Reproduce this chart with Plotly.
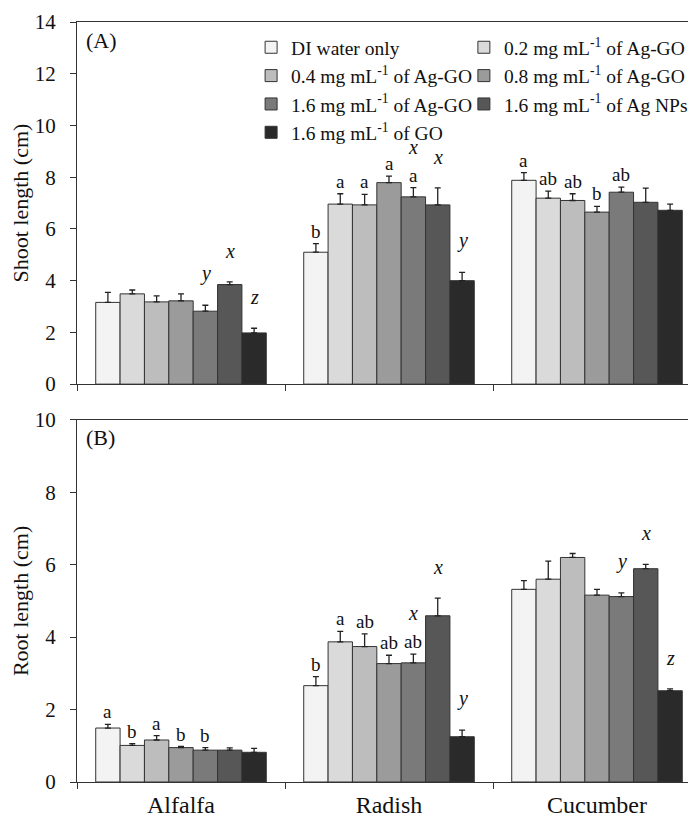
import plotly.graph_objects as go
from plotly.subplots import make_subplots

crops = ["Alfalfa", "Radish", "Cucumber"]
treatments = [
    "DI water only",
    "0.2 mg mL<sup>-1</sup> of Ag-GO",
    "0.4 mg mL<sup>-1</sup> of Ag-GO",
    "0.8 mg mL<sup>-1</sup> of Ag-GO",
    "1.6 mg mL<sup>-1</sup> of Ag-GO",
    "1.6 mg mL<sup>-1</sup> of Ag NPs",
    "1.6 mg mL<sup>-1</sup> of GO",
]
colors = ["#f3f3f3", "#dadada", "#bdbdbd", "#9b9b9b", "#7a7a7a", "#575757", "#2a2a2a"]
# which of the two legend columns each treatment goes in
legend_col = ["legend", "legend2", "legend", "legend2", "legend", "legend2", "legend"]

# shoot length (cm), one list per treatment across crops
shoot_mean = [
    [3.16, 5.10, 7.88],
    [3.49, 6.96, 7.19],
    [3.18, 6.93, 7.10],
    [3.22, 7.79, 6.65],
    [2.82, 7.24, 7.42],
    [3.85, 6.93, 7.03],
    [1.98, 4.00, 6.72],
]
shoot_err = [
    [0.39, 0.33, 0.30],
    [0.15, 0.40, 0.27],
    [0.23, 0.41, 0.26],
    [0.27, 0.25, 0.22],
    [0.23, 0.36, 0.20],
    [0.10, 0.66, 0.55],
    [0.18, 0.32, 0.24],
]
shoot_letters = [
    ["", "b", "a"],
    ["", "a", "ab"],
    ["", "a", "ab"],
    ["", "a", "b"],
    ["", "a", "ab"],
    ["", "", ""],
    ["", "", ""],
]
shoot_italic = [
    ["", "", ""],
    ["", "", ""],
    ["", "", ""],
    ["", "", ""],
    ["y", "x", ""],
    ["x", "x", ""],
    ["z", "y", ""],
]

# root length (cm)
root_mean = [
    [1.49, 2.66, 5.32],
    [1.01, 3.87, 5.60],
    [1.16, 3.74, 6.20],
    [0.95, 3.27, 5.16],
    [0.88, 3.29, 5.12],
    [0.88, 4.59, 5.89],
    [0.82, 1.25, 2.52],
]
root_err = [
    [0.10, 0.25, 0.24],
    [0.05, 0.29, 0.50],
    [0.12, 0.35, 0.11],
    [0.03, 0.23, 0.16],
    [0.07, 0.24, 0.10],
    [0.06, 0.49, 0.12],
    [0.11, 0.18, 0.05],
]
root_letters = [
    ["a", "b", ""],
    ["b", "a", ""],
    ["a", "ab", ""],
    ["b", "ab", ""],
    ["b", "ab", ""],
    ["", "", ""],
    ["", "", ""],
]
root_italic = [
    ["", "", ""],
    ["", "", ""],
    ["", "", ""],
    ["", "", ""],
    ["", "x", "y"],
    ["", "x", "x"],
    ["", "y", "z"],
]

FONT = "Liberation Serif, Times New Roman, serif"
bargap = 0.18
group = 1 - bargap
bw = group / len(treatments)

fig = make_subplots(rows=2, cols=1, vertical_spacing=0.047, shared_xaxes=False)

panels = [
    (1, shoot_mean, shoot_err, shoot_letters, shoot_italic, True),
    (2, root_mean, root_err, root_letters, root_italic, False),
]

for row, means, errs, letters, italics, show in panels:
    xref = "x" if row == 1 else "x2"
    yref = "y" if row == 1 else "y2"
    for j, name in enumerate(treatments):
        fig.add_trace(go.Bar(
            x=crops, y=means[j], name=name, showlegend=show, legend=legend_col[j],
            marker=dict(color=colors[j], line=dict(color="#333333", width=1)),
            error_y=dict(type="data", array=errs[j], arrayminus=[0] * 3,
                         symmetric=False, color="#222222", thickness=1.3, width=3),
        ), row=row, col=1)
        # significance letters above each error bar
        for i in range(len(crops)):
            xpos = i - group / 2 + bw * (j + 0.5)
            top = means[j][i] + errs[j][i]
            if letters[j][i]:
                fig.add_annotation(x=xpos, y=top, xref=xref, yref=yref,
                                   text=letters[j][i], showarrow=False, yanchor="bottom",
                                   yshift=0, font=dict(family=FONT, size=19, color="#111"))
            if italics[j][i]:
                shift = 28 if letters[j][i] else 18
                fig.add_annotation(x=xpos, y=top, xref=xref, yref=yref,
                                   text="<i>" + italics[j][i] + "</i>", showarrow=False,
                                   yanchor="bottom", yshift=shift,
                                   font=dict(family=FONT, size=20, color="#111"))

axis_common = dict(showline=True, linecolor="#333333", linewidth=1, mirror=True,
                   ticks="outside", ticklen=6, tickcolor="#333333", showgrid=False,
                   zeroline=False, ticklabelstandoff=10,
                   tickfont=dict(family=FONT, size=21, color="#111"))

fig.update_xaxes(**axis_common, tickson="boundaries")
fig.update_xaxes(tickfont=dict(family=FONT, size=24, color="#111"), ticklabelstandoff=1,
                 row=2, col=1)
fig.update_xaxes(showticklabels=False, row=1, col=1)
fig.update_yaxes(**axis_common)
fig.update_yaxes(range=[0, 14], dtick=2, row=1, col=1,
                 title=dict(text="Shoot length (cm)", font=dict(family=FONT, size=22, color="#111"),
                            standoff=3))
fig.update_yaxes(range=[0, 10], dtick=2, row=2, col=1,
                 title=dict(text="Root length (cm)", font=dict(family=FONT, size=22, color="#111"),
                            standoff=3))

fig.add_annotation(x=0.012, y=0.995, xref="paper", yref="paper", text="(A)", showarrow=False,
                   xanchor="left", yanchor="top", font=dict(family=FONT, size=22, color="#111"))
fig.add_annotation(x=0.012, y=0.472, xref="paper", yref="paper", text="(B)", showarrow=False,
                   xanchor="left", yanchor="top", font=dict(family=FONT, size=22, color="#111"))

legend_style = dict(y=0.992, xanchor="left", yanchor="top", bgcolor="rgba(0,0,0,0)",
                    font=dict(family=FONT, size=19.5, color="#111"), itemwidth=30,
                    tracegroupgap=0, traceorder="normal")

fig.update_layout(
    width=696, height=813,
    margin=dict(l=69, r=2, t=11, b=39),
    plot_bgcolor="white", paper_bgcolor="white",
    barmode="group", bargap=bargap, bargroupgap=0,
    font=dict(family=FONT, color="#111"),
    legend=dict(x=0.279, **legend_style),
    legend2=dict(x=0.62, **legend_style),
)

fig.write_html("out.html")
